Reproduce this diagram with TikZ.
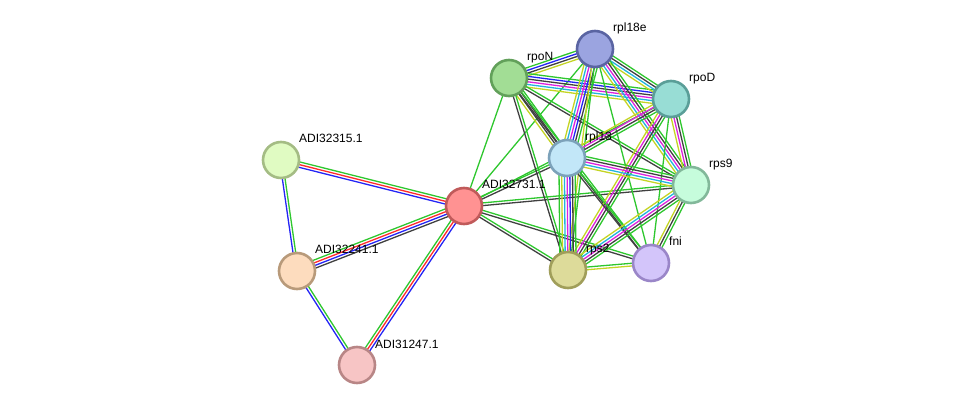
\documentclass[tikz,border=0pt]{standalone}
\usepackage{fontspec}
\setmainfont{Liberation Sans}
\usetikzlibrary{calc}
\pgfdeclarelayer{edges}
\pgfsetlayers{edges,main}
% evidence channel colours
\definecolor{StrNeighbor}{HTML}{2EC72E}
\definecolor{StrFusion}{HTML}{FF2A2A}
\definecolor{StrCooccur}{HTML}{2424F5}
\definecolor{StrCoexpr}{HTML}{404040}
\definecolor{StrExper}{HTML}{DD22DD}
\definecolor{StrDatabase}{HTML}{22B4DC}
\definecolor{StrText}{HTML}{C4D424}
% protein fill / rim colours
\definecolor{FillA}{HTML}{E0FBC2}\definecolor{RimA}{HTML}{A4BC84}
\definecolor{FillB}{HTML}{FF9292}\definecolor{RimB}{HTML}{C05A5A}
\definecolor{FillC}{HTML}{FDDCBE}\definecolor{RimC}{HTML}{B89A7A}
\definecolor{FillD}{HTML}{F7C5C5}\definecolor{RimD}{HTML}{B88686}
\definecolor{FillE}{HTML}{A2DD95}\definecolor{RimE}{HTML}{62A05A}
\definecolor{FillF}{HTML}{9BA4E0}\definecolor{RimF}{HTML}{5A64A2}
\definecolor{FillG}{HTML}{98DDD5}\definecolor{RimG}{HTML}{5A9E98}
\definecolor{FillH}{HTML}{C2E7F8}\definecolor{RimH}{HTML}{7CA2BA}
\definecolor{FillI}{HTML}{C6FCDC}\definecolor{RimI}{HTML}{82B89A}
\definecolor{FillJ}{HTML}{DDDB9A}\definecolor{RimJ}{HTML}{A09E5A}
\definecolor{FillK}{HTML}{D3C5FA}\definecolor{RimK}{HTML}{9A86C8}
\tikzset{
  every node/.style={font=\fontsize{12}{14}\selectfont, text=black},
  protein/.style={circle, minimum size=36pt, inner sep=0pt, line width=2.6pt, fill=Fill#1, draw=Rim#1},
  tag/.style={anchor=base west, inner sep=0pt},
  evidence/.style={line width=1.3pt},
}
% one coloured line per evidence channel, side by side
\newcommand{\proteinlink}[3]{%
  \foreach \ev [count=\k] in {#3} {\xdef\nev{\k}}%
  \begin{pgfonlayer}{edges}
    \foreach \ev [count=\k] in {#3} {
      \pgfmathsetmacro{\off}{((\nev+1)/2-\k)*2.7}
      \draw[evidence, draw=\ev] ($(#1)!\off pt!90:(#2)$) -- ($(#2)!\off pt!-90:(#1)$);
    }
  \end{pgfonlayer}}

\begin{document}
\begin{tikzpicture}[x=1pt,y=-1pt]
  \useasboundingbox (0,0) rectangle (976,411);
  % Proteins
  \node[protein=A] (adi32315) at (281,160) {};
  \node[protein=B] (adi32731) at (464,206) {};
  \node[protein=C] (adi32241) at (297,271) {};
  \node[protein=D] (adi31247) at (357,365) {};
  \node[protein=E] (rpoN) at (509,78) {};
  \node[protein=F] (rpl18e) at (595,49) {};
  \node[protein=G] (rpoD) at (671,99) {};
  \node[protein=H] (rpl13) at (567,158) {};
  \node[protein=I] (rps9) at (691,185) {};
  \node[protein=J] (rps2) at (568,270) {};
  \node[protein=K] (fni) at (651,263) {};
  % Labels
  \foreach \p/\t in {adi32315/ADI32315.1, adi32731/ADI32731.1, adi32241/ADI32241.1,
      adi31247/ADI31247.1, rpoN/rpoN, rpl18e/rpl18e, rpoD/rpoD, rpl13/rpl13,
      rps9/rps9, rps2/rps2, fni/fni}
    \node[tag] (\p-tag) at ($(\p)+(18,-17)$) {\t};
  % Left triangle
  \proteinlink{adi32315}{adi32731}{StrNeighbor,StrFusion,StrCooccur}
  \proteinlink{adi32315}{adi32241}{StrNeighbor,StrCooccur}
  \proteinlink{adi32241}{adi32731}{StrNeighbor,StrFusion,StrCooccur,StrCoexpr}
  \proteinlink{adi32241}{adi31247}{StrNeighbor,StrCooccur}
  \proteinlink{adi31247}{adi32731}{StrNeighbor,StrFusion,StrCooccur}
  % ADI32731.1 to the ribosome cluster
  \proteinlink{adi32731}{rpoN}{StrNeighbor}
  \proteinlink{adi32731}{rpl18e}{StrNeighbor}
  \proteinlink{adi32731}{rpoD}{StrNeighbor}
  \proteinlink{adi32731}{rpl13}{StrNeighbor,StrCoexpr}
  \proteinlink{adi32731}{rps9}{StrNeighbor,StrCoexpr}
  \proteinlink{adi32731}{rps2}{StrNeighbor,StrCoexpr}
  \proteinlink{adi32731}{fni}{StrNeighbor,StrCoexpr}
  % Cluster
  \proteinlink{rpoN}{rpl18e}{StrNeighbor,StrCooccur,StrCoexpr,StrText}
  \proteinlink{rpoN}{rpoD}{StrNeighbor,StrCooccur,StrCoexpr,StrExper,StrDatabase,StrText}
  \proteinlink{rpoN}{rpl13}{StrNeighbor,StrCoexpr,StrCoexpr,StrText}
  \proteinlink{rpoN}{rps9}{StrNeighbor,StrCoexpr}
  \proteinlink{rpoN}{rps2}{StrNeighbor,StrCoexpr}
  \proteinlink{rpoN}{fni}{StrNeighbor,StrCoexpr}
  \proteinlink{rpl18e}{rpoD}{StrNeighbor,StrCoexpr,StrDatabase,StrText}
  \proteinlink{rpl18e}{rpl13}{StrNeighbor,StrCoexpr,StrCooccur,StrExper,StrDatabase,StrText}
  \proteinlink{rpl18e}{rps9}{StrNeighbor,StrCoexpr,StrExper,StrDatabase,StrText}
  \proteinlink{rpl18e}{rps2}{StrNeighbor,StrText}
  \proteinlink{rpl18e}{fni}{StrNeighbor}
  \proteinlink{rpoD}{rpl13}{StrNeighbor,StrCoexpr,StrExper,StrText}
  \proteinlink{rpoD}{rps9}{StrNeighbor,StrCoexpr,StrExper,StrText}
  \proteinlink{rpoD}{rps2}{StrNeighbor,StrCoexpr,StrExper,StrText}
  \proteinlink{rpoD}{fni}{StrNeighbor}
  \proteinlink{rpl13}{rps9}{StrNeighbor,StrCoexpr,StrExper,StrDatabase,StrText}
  \proteinlink{rpl13}{rps2}{StrNeighbor,StrCoexpr,StrCooccur,StrExper,StrDatabase,StrText,StrNeighbor}
  \proteinlink{rpl13}{fni}{StrNeighbor,StrCoexpr}
  \proteinlink{rps9}{rps2}{StrNeighbor,StrCoexpr,StrExper,StrDatabase,StrText}
  \proteinlink{rps9}{fni}{StrNeighbor,StrCoexpr,StrText}
  \proteinlink{rps2}{fni}{StrNeighbor,StrText}
\end{tikzpicture}
\end{document}
